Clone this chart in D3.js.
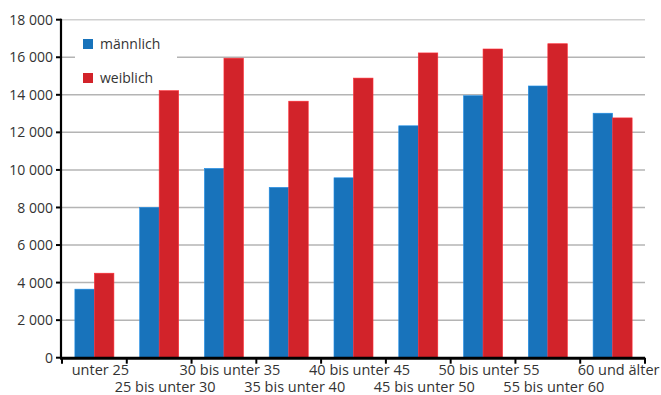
<!DOCTYPE html>
<html>
<head>
<meta charset="utf-8">
<script src="https://cdn.jsdelivr.net/npm/d3@7"></script>
<style>
  body { margin: 0; background: #fff; }
  text { font-family: "Open Sans", sans-serif; fill: #333; }
</style>
</head>
<body>
<div id="target"></div>
<script>
const categories = [
  "unter 25", "25 bis unter 30", "30 bis unter 35", "35 bis unter 40",
  "40 bis unter 45", "45 bis unter 50", "50 bis unter 55", "55 bis unter 60",
  "60 und älter"
];
const series = ["männlich", "weiblich"];
const maennlich = [3650, 8000, 10080, 9070, 9580, 12350, 13950, 14470, 13020];
const weiblich = [4500, 14220, 15950, 13660, 14890, 16230, 16440, 16720, 12770];
const yTicks = [0, 2000, 4000, 6000, 8000, 10000, 12000, 14000, 16000, 18000];

function drawBars() {
  const width = 661,
    height = 395,
    left = 62,
    right = 645,
    top = 19.7,
    bottom = 357.7;

  const colors = ["#1873bb", "#d2232a"];

  const svg = d3.select("#target")
    .append("svg")
    .attr("width", width)
    .attr("height", height);

  const x = d3.scaleBand()
    .domain(categories)
    .range([left, right])
    .padding(0);

  const y = d3.scaleLinear()
    .domain([0, 18000])
    .range([bottom, top]);

  const fmt = (v) => d3.format(",")(v).replace(/,/g, " ");

  // gridlines
  svg.append("g")
    .selectAll("line")
    .data(yTicks.filter((d) => d > 0))
    .enter()
    .append("line")
    .attr("x1", left)
    .attr("x2", right)
    .attr("y1", (d) => y(d))
    .attr("y2", (d) => y(d))
    .style("stroke", (d) => d === 18000 ? "#d0d0d0" : "#b4b4b4")
    .style("stroke-width", 1.5);

  // bars
  const inner = d3.scaleBand()
    .domain(series)
    .range([0, x.bandwidth()])
    .paddingOuter(0.66)
    .paddingInner(0);

  const rows = categories.map((c, i) => ({
    cat: c,
    values: [maennlich[i], weiblich[i]]
  }));

  const group = svg.append("g")
    .selectAll("g")
    .data(rows)
    .enter()
    .append("g")
    .attr("transform", (d) => `translate(${x(d.cat)},0)`);

  group.selectAll("rect")
    .data((d) => d.values.map((v, j) => ({ key: series[j], value: v, j: j })))
    .enter()
    .append("rect")
    .attr("x", (d) => inner(d.key))
    .attr("width", inner.bandwidth())
    .attr("y", (d) => y(d.value))
    .attr("height", (d) => y(0) - y(d.value))
    .style("fill", (d) => colors[d.j])
    .style("stroke", (d) => d3.color(colors[d.j]).brighter(0.6))
    .style("stroke-width", 0.6);

  // legend
  const legend = svg.append("g");
  legend.append("rect")
    .attr("x", 75)
    .attr("y", 30)
    .attr("width", 102)
    .attr("height", 60)
    .style("fill", "#fff");

  const item = legend.selectAll("g")
    .data(series)
    .enter()
    .append("g")
    .attr("transform", (d, i) => `translate(83,${39 + i * 34})`);

  item.append("rect")
    .attr("width", 10)
    .attr("height", 10)
    .style("fill", (d, i) => colors[i]);

  item.append("text")
    .attr("x", 17)
    .attr("y", 10)
    .style("font-size", "14px")
    .text((d) => d);

  // y axis
  svg.append("line")
    .attr("x1", 61)
    .attr("x2", 61)
    .attr("y1", top - 1)
    .attr("y2", bottom + 1)
    .style("stroke", "#000")
    .style("stroke-width", 2.2);

  const yt = svg.append("g")
    .selectAll("g")
    .data(yTicks)
    .enter()
    .append("g")
    .attr("transform", (d) => `translate(0,${y(d)})`);

  yt.append("line")
    .attr("x1", 56)
    .attr("x2", 61)
    .style("stroke", "#000")
    .style("stroke-width", 2);

  yt.append("text")
    .attr("x", 53)
    .attr("dy", "0.36em")
    .attr("text-anchor", "end")
    .style("font-size", "14px")
    .text((d) => fmt(d));

  // x axis
  svg.append("line")
    .attr("x1", 60)
    .attr("x2", right)
    .attr("y1", bottom + 0.5)
    .attr("y2", bottom + 0.5)
    .style("stroke", "#000")
    .style("stroke-width", 3);

  const bounds = categories.map((c) => x(c)).concat([right]);
  svg.append("g")
    .selectAll("line")
    .data(bounds)
    .enter()
    .append("line")
    .attr("x1", (d) => d)
    .attr("x2", (d) => d)
    .attr("y1", bottom)
    .attr("y2", bottom + 6)
    .style("stroke", "#000")
    .style("stroke-width", 2);

  svg.append("g")
    .selectAll("text")
    .data(categories)
    .enter()
    .append("text")
    .attr("x", (d) => x(d) + x.bandwidth() / 2 + 6)
    .attr("y", (d, i) => i % 2 === 0 ? 375 : 391.5)
    .attr("text-anchor", "middle")
    .style("font-size", "14.5px")
    .text((d) => d);
}

drawBars();
</script>
</body>
</html>
